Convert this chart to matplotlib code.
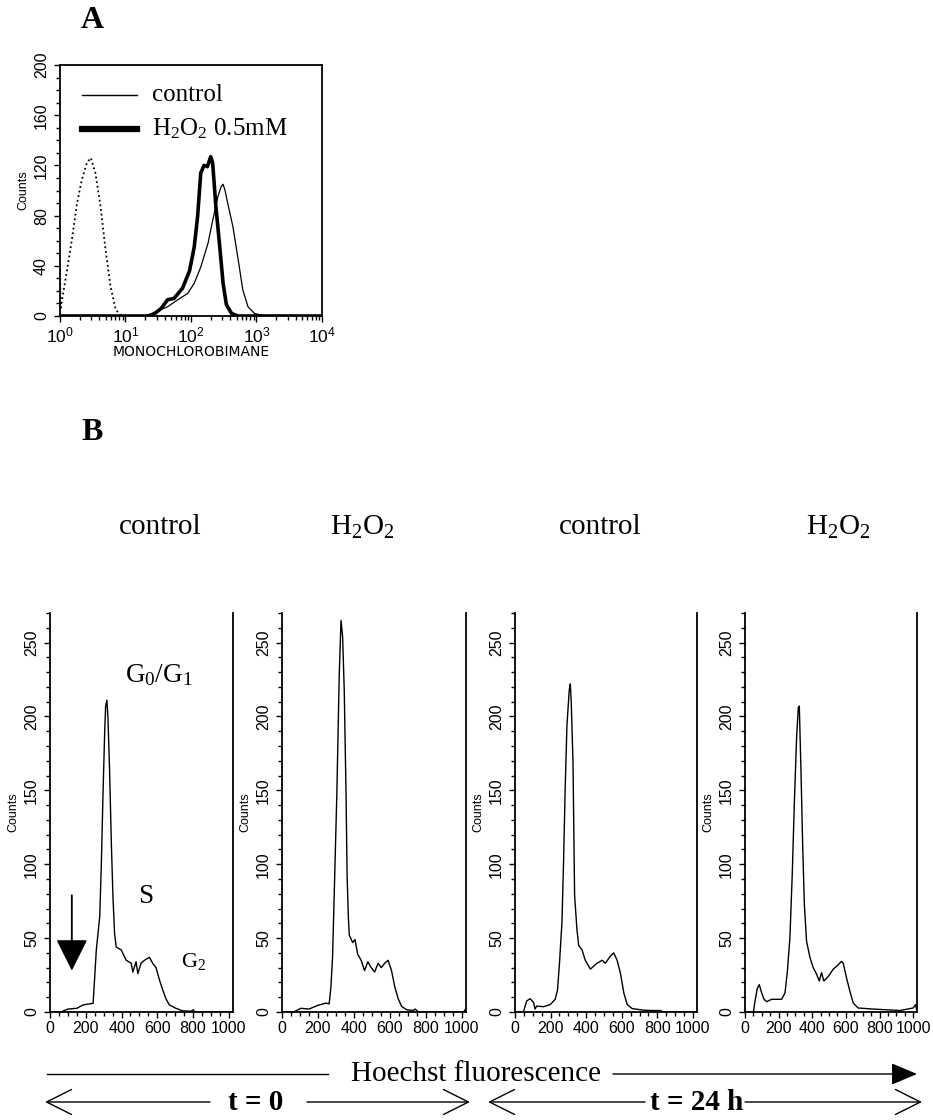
import matplotlib
matplotlib.use('Agg')
import matplotlib.pyplot as plt
from matplotlib.ticker import MultipleLocator, FixedLocator, LogLocator, NullFormatter
from matplotlib.patches import FancyArrowPatch

# ---------------- data ----------------
# Panel A: monochlorobimane fluorescence (log scale) vs counts
unstained_x = [1.0, 1.02, 1.05, 1.26, 1.51, 1.82, 2.14, 2.57, 2.95, 3.47, 4.17, 4.9, 5.89, 7.08, 8.3, 10.0, 12.0]
unstained_y = [45, 5, 10, 34, 60, 90, 108, 122, 126, 114, 87, 55, 24, 5, 1, 0, 0]
control_x = [1.0, 20, 31, 44, 63, 89, 112, 141, 182, 214, 257, 288, 309, 331, 363, 437, 525, 617, 741, 933, 1349, 10000]
control_y = [0, 0, 4, 7.4, 13, 18, 26, 39, 58, 76, 95, 103, 105, 100, 90, 71, 45, 21, 7.4, 2, 0, 0]
h2o2_x = [1.0, 25, 35, 44, 55, 74, 95, 112, 126, 141, 158, 178, 200, 214, 240, 275, 309, 347, 417, 525, 10000]
h2o2_y = [0, 0, 6, 13, 14, 22, 36, 55, 79, 114, 120, 119, 127, 122, 87, 55, 26, 9, 2, 0, 0]

# Panel B: Hoechst fluorescence channel vs counts
b1_ch = [0, 60, 100, 150, 185, 241, 259, 278, 287, 296, 306, 311, 318, 324, 333, 343, 352, 361, 370, 398, 426,
         454, 463, 481, 491, 509, 528, 556, 574, 593, 611, 630, 648, 667, 704, 741, 790, 800, 810, 1023]
b1_ct = [0, 0, 2, 2.5, 4.8, 5.9, 42, 64.6, 100, 146, 191, 207, 211, 199, 164, 114, 78, 53, 44, 42, 35,
         33, 27, 34, 26, 33, 35, 37, 33, 30, 22, 15, 9, 4.8, 2.5, 0.8, 0.5, 1.5, 0, 0]
b2_ch = [0, 65, 105, 150, 199, 243, 262, 272, 281, 290, 305, 318, 328, 337, 346, 356, 362, 369, 374, 393, 406,
         421, 440, 459, 477, 496, 515, 534, 552, 571, 590, 609, 627, 646, 665, 693, 730, 740, 760, 1010, 1020, 1023]
b2_ct = [0, 0, 2.5, 2.0, 4.5, 6, 5.5, 16.9, 37, 78, 148, 227, 265, 254, 218, 148, 92, 64, 52, 47, 49,
         39, 35, 28, 34, 30, 27, 33, 30, 33, 35, 28, 17, 9, 3.8, 1.5, 1, 2, 0, 0, 2, 0]
b3_ch = [0, 47, 66, 85, 104, 113, 122, 160, 198, 226, 239, 250, 264, 273, 282, 292, 305, 311, 316, 326, 335,
         348, 358, 377, 395, 424, 442, 461, 490, 508, 537, 555, 574, 593, 612, 631, 659, 725, 772, 819, 830, 1023]
b3_ct = [0, 0, 7.5, 9, 6.5, 2, 4, 3.6, 5, 8.6, 15, 33, 61, 102, 151, 194, 218, 222, 210, 169, 79,
         56, 45, 42, 35, 29, 31, 33, 35, 33, 38, 40, 35, 26, 12.7, 5, 2.3, 1.2, 1.0, 1.0, 0, 0]
b4_ch = [0, 50, 59, 73, 85, 99, 113, 129, 158, 188, 218, 238, 252, 267, 281, 293, 307, 317, 323, 333, 343,
         353, 366, 386, 406, 426, 442, 455, 469, 495, 525, 555, 574, 584, 604, 624, 644, 673, 723, 762,
         842, 921, 1000, 1015, 1023]
b4_ct = [0, 0, 7, 16, 18.5, 13, 8.6, 7, 8.6, 8.6, 8.6, 13, 27.5, 50, 93, 140, 186, 206, 207, 163, 113,
         73, 48, 37, 30, 25.5, 21, 26.6, 21, 24, 29, 32, 34.3, 33, 23, 14, 6, 2.7, 2.3, 2,
         1.5, 1, 2.7, 5, 0]

b_titles = ['control', r'$\mathregular{H_2O_2}$', 'control', r'$\mathregular{H_2O_2}$']
b_ch = [b1_ch, b2_ch, b3_ch, b4_ch]
b_ct = [b1_ct, b2_ct, b3_ct, b4_ct]
b_xticks = [0, 200, 400, 600, 800, 1000]
b_yticks = [0, 50, 100, 150, 200, 250]
a_yticks = [0, 40, 80, 120, 160, 200]
a_xticks = [1, 10, 100, 1000, 10000]

# ---------------- layout ----------------
W, H = 933, 1120
fig = plt.figure(figsize=(W / 100, H / 100), dpi=100)
SERIF = ['Liberation Serif', 'DejaVu Serif']
SANS = ['Liberation Sans Narrow', 'Liberation Sans', 'DejaVu Sans']
SANSW = ['Liberation Sans', 'DejaVu Sans']


def ax_px(l, t, r, b):
    return fig.add_axes([l / W, 1 - b / H, (r - l) / W, (b - t) / H])


def fx(x):
    return x / W


def fy(y):
    return 1 - y / H


def style_ticks(ax):
    ax.tick_params(which='both', direction='out', width=1.0, color='black')
    ax.tick_params(which='major', length=4.5)
    ax.tick_params(which='minor', length=2.8)
    for lab in ax.get_yticklabels():
        lab.set_rotation(90)
        lab.set_va('center')
        lab.set_family(SANS)
        lab.set_fontsize(11.5)
    for lab in ax.get_xticklabels():
        lab.set_family(SANS)
    for s in ax.spines.values():
        s.set_linewidth(1.3)


# ---------------- panel A ----------------
axA = ax_px(60, 65, 322, 316)
axA.set_xscale('log')
axA.set_xlim(1, 1e4)
axA.set_ylim(0, 200)
axA.plot(unstained_x, unstained_y, color='black', lw=1.3, ls=(0, (1, 1.6)))
axA.plot(control_x, control_y, color='black', lw=0.9)
axA.plot(h2o2_x, h2o2_y, color='black', lw=2.6)
axA.yaxis.set_major_locator(FixedLocator(a_yticks))
axA.yaxis.set_minor_locator(MultipleLocator(10))
axA.xaxis.set_major_locator(FixedLocator(a_xticks))
axA.xaxis.set_minor_locator(LogLocator(base=10, subs=range(2, 10), numticks=20))
axA.xaxis.set_minor_formatter(NullFormatter())
axA.set_xticklabels([r'$\mathregular{10^{%d}}$' % i for i in range(5)], fontsize=12, family=SANSW)
style_ticks(axA)
for lab in axA.get_xticklabels():
    lab.set_family(SANSW)
    lab.set_fontsize(12.5)
axA.tick_params(axis='x', pad=2)
axA.set_ylabel('Counts', fontsize=9, family=SANSW, labelpad=3)
axA.set_xlabel('MONOCHLOROBIMANE', fontsize=10, family=['DejaVu Sans'], labelpad=0)

# legend drawn in axes fraction
axA.plot([0.084, 0.294], [0.880, 0.880], transform=axA.transAxes, color='black', lw=1.0)
axA.plot([0.084, 0.294], [0.745, 0.745], transform=axA.transAxes, color='black', lw=4.5)
axA.text(0.351, 0.880, 'control', transform=axA.transAxes, fontsize=18, family=SERIF, va='center')
axA.text(0.351, 0.745, r'$\mathregular{H_2O_2}$ 0.5mM', transform=axA.transAxes, fontsize=18,
         family=SERIF, va='center')

fig.text(fx(92), fy(20), 'A', fontsize=23, fontweight='bold', family=SERIF, ha='center', va='center')
fig.text(fx(92), fy(432), 'B', fontsize=23, fontweight='bold', family=SERIF, ha='center', va='center')

# ---------------- panel B ----------------
b_pos = [(50, 233), (282, 466), (515, 697), (745, 917)]
title_x = [160, 362, 600, 838]
for i in range(4):
    l, r = b_pos[i]
    ax = ax_px(l, 613, r, 1012)
    ax.plot(b_ch[i], b_ct[i], color='black', lw=1.0)
    ax.set_xlim(0, 1023)
    ax.set_ylim(0, 270)
    ax.spines['top'].set_visible(False)
    ax.xaxis.set_major_locator(FixedLocator(b_xticks))
    ax.xaxis.set_minor_locator(MultipleLocator(50))
    ax.yaxis.set_major_locator(FixedLocator(b_yticks))
    ax.yaxis.set_minor_locator(MultipleLocator(10))
    ax.set_xticklabels([str(v) for v in b_xticks], fontsize=11.5)
    style_ticks(ax)
    ax.tick_params(axis='x', pad=2)
    ax.set_ylabel('Counts', fontsize=9, family=SANSW, labelpad=3)
    fig.text(fx(title_x[i]), fy(527), b_titles[i], fontsize=21, family=SERIF, ha='center', va='center')
    if i == 0:
        ax.text(606, 228, r'$\mathregular{G_0/G_1}$', fontsize=19.5, family=SERIF, ha='center', va='center')
        ax.text(533, 78, 'S', fontsize=19.5, family=SERIF, ha='center', va='center')
        ax.text(800, 34, r'$\mathregular{G_2}$', fontsize=16, family=SERIF, ha='center', va='center')
        ax.annotate('', xy=(122, 28), xytext=(122, 79),
                    arrowprops=dict(arrowstyle='-|>,head_length=0.9,head_width=0.45',
                                    lw=1.3, color='black', mutation_scale=22, shrinkA=0, shrinkB=0))

# ---------------- bottom annotations ----------------
def farrow(x0, y0, x1, y1, style, ms):
    p = FancyArrowPatch((fx(x0), fy(y0)), (fx(x1), fy(y1)), transform=fig.transFigure,
                        arrowstyle=style, mutation_scale=ms, lw=1.0, color='black',
                        shrinkA=0, shrinkB=0)
    fig.add_artist(p)

yh = 1074
fig.lines.append(plt.Line2D([fx(47), fx(328)], [fy(yh), fy(yh)], transform=fig.transFigure,
                            color='black', lw=1.0))
farrow(613, yh, 917, yh, '-|>,head_length=0.9,head_width=0.38', 18)
fig.text(fx(476), fy(yh), 'Hoechst fluorescence', fontsize=21, family=SERIF, ha='center', va='center')

yt = 1102
farrow(210, yt, 45, yt, '->,head_length=0.9,head_width=0.45', 20)
farrow(307, yt, 470, yt, '->,head_length=0.9,head_width=0.45', 20)
fig.text(fx(256), fy(yt), 't = 0', fontsize=21, fontweight='bold', family=SERIF, ha='center', va='center')
farrow(645, yt, 488, yt, '->,head_length=0.9,head_width=0.45', 20)
farrow(745, yt, 922, yt, '->,head_length=0.9,head_width=0.45', 20)
fig.text(fx(697), fy(yt), 't = 24 h', fontsize=21, fontweight='bold', family=SERIF, ha='center', va='center')

fig.savefig('out.png', dpi=100)
